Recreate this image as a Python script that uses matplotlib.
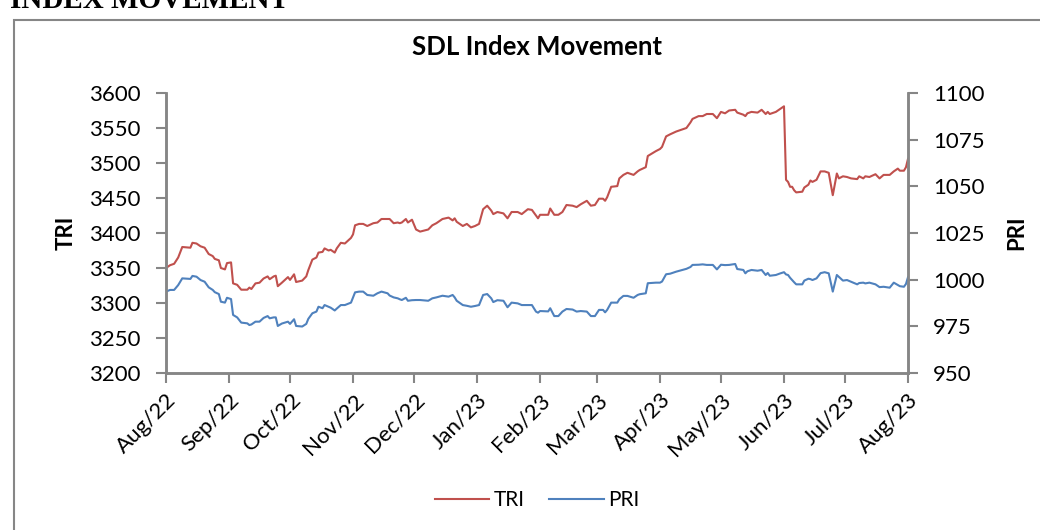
import matplotlib
matplotlib.use("Agg")
import matplotlib.pyplot as plt
import matplotlib.dates as mdates
from matplotlib.patches import Rectangle
import pandas as pd

plt.rcParams['font.family'] = ['Lato', 'DejaVu Sans']

# days since 1 Aug 2022
days = [0, 2, 4, 6, 8, 12, 13, 15, 17, 19, 21, 23, 24, 26, 27, 29, 30, 32, 33, 35,
        37, 40, 41, 42, 44, 46, 48, 50, 51, 53, 54, 55, 57, 60, 61, 63, 64, 67, 69, 70,
        72, 74, 75, 77, 78, 80, 81, 83, 84, 86, 88, 91, 92, 93, 95, 97, 99, 102, 104, 106,
        109, 110, 112, 114, 115, 116, 118, 119, 121, 123, 125, 129, 131, 133, 136, 139, 141, 142, 143, 146,
        148, 150, 152, 154, 156, 158, 160, 161, 163, 166, 168, 170, 173, 175, 178, 180, 182, 183, 184, 188,
        189, 191, 193, 195, 197, 200, 202, 204, 207, 209, 211, 213, 215, 216, 217, 219, 222, 223, 225, 227,
        230, 232, 233, 236, 237, 241, 243, 244, 246, 248, 251, 254, 256, 258, 259, 262, 264, 266, 269, 271,
        273, 275, 277, 280, 281, 284, 285, 286, 288, 291, 293, 295, 296, 297, 300, 302, 304, 305, 306, 307,
        308, 309, 310, 313, 314, 316, 317, 318, 320, 322, 324, 326, 328, 330, 331, 333, 335, 337, 340, 341,
        343, 344, 346, 349, 351, 353, 356, 358, 360, 361, 363, 364, 365]

tri = [3350, 3354, 3356, 3365, 3380, 3379, 3386, 3385, 3381, 3379, 3370, 3367, 3363, 3361, 3350, 3348, 3357, 3358, 3328, 3326,
       3319, 3319, 3322, 3320, 3328, 3329, 3335, 3338, 3334, 3338, 3339, 3324, 3329, 3337, 3333, 3341, 3330, 3332, 3338, 3347,
       3362, 3365, 3372, 3373, 3378, 3375, 3376, 3372, 3378, 3386, 3385, 3393, 3398, 3411, 3413, 3413, 3410, 3414, 3415, 3420,
       3420, 3420, 3414, 3415, 3414, 3415, 3420, 3415, 3419, 3405, 3402, 3405, 3411, 3414, 3420, 3422, 3418, 3421, 3416, 3410,
       3413, 3408, 3410, 3413, 3434, 3439, 3432, 3427, 3430, 3428, 3421, 3430, 3430, 3427, 3434, 3433, 3425, 3421, 3426, 3426,
       3435, 3426, 3426, 3430, 3440, 3439, 3437, 3441, 3446, 3439, 3440, 3449, 3449, 3446, 3451, 3466, 3467, 3478, 3483, 3486,
       3483, 3488, 3490, 3494, 3510, 3517, 3520, 3523, 3538, 3541, 3545, 3548, 3550, 3558, 3563, 3567, 3567, 3570, 3570, 3564,
       3573, 3571, 3575, 3576, 3572, 3569, 3567, 3571, 3573, 3572, 3576, 3570, 3573, 3570, 3573, 3577, 3581, 3476, 3473, 3466,
       3466, 3461, 3458, 3459, 3465, 3469, 3475, 3473, 3476, 3488, 3488, 3486, 3454, 3485, 3478, 3481, 3480, 3478, 3477, 3481,
       3478, 3481, 3480, 3484, 3478, 3483, 3483, 3488, 3492, 3489, 3489, 3494, 3506]

pri = [993.6, 994.5, 994.5, 997.1, 1000.7, 1000.4, 1002.0, 1001.6, 999.8, 998.9, 995.9, 994.5, 993.3, 992.3, 988.2, 987.7, 990.3, 989.6, 981.1, 979.8,
       977.0, 976.6, 975.7, 976.0, 977.5, 977.5, 979.5, 980.5, 979.3, 979.8, 979.8, 975.2, 976.5, 977.5, 976.3, 978.8, 975.2, 974.9, 976.3, 979.0,
       982.0, 982.9, 985.5, 984.7, 986.4, 985.5, 985.0, 983.5, 984.5, 986.4, 986.4, 987.7, 990.5, 993.2, 993.6, 993.6, 991.8, 991.4, 992.7, 993.6,
       992.7, 991.5, 990.5, 990.0, 989.5, 989.1, 990.3, 988.7, 989.0, 989.1, 989.1, 988.7, 990.0, 990.5, 991.4, 990.9, 991.8, 990.5, 988.7, 986.4,
       986.0, 985.5, 985.9, 986.4, 991.8, 992.3, 990.0, 988.0, 989.0, 988.7, 985.2, 987.7, 987.3, 986.4, 986.4, 986.4, 982.9, 982.3, 983.2, 983.0,
       984.7, 980.5, 980.5, 982.9, 984.3, 984.0, 982.9, 983.2, 982.9, 980.5, 980.5, 983.8, 983.8, 982.5, 983.8, 987.7, 987.7, 989.5, 991.3, 991.3,
       990.3, 991.8, 992.2, 992.7, 998.1, 998.4, 998.4, 999.0, 1002.9, 1003.2, 1004.3, 1005.2, 1005.8, 1006.8, 1007.9, 1008.0, 1008.2, 1007.9, 1007.9, 1005.5,
       1008.0, 1007.8, 1007.9, 1008.4, 1005.7, 1005.2, 1003.4, 1004.5, 1005.2, 1004.8, 1005.2, 1002.5, 1003.6, 1002.1, 1002.5, 1003.3, 1004.0, 1002.8, 1002.5, 1001.0,
       999.8, 998.6, 997.5, 997.5, 999.5, 1000.5, 1000.3, 999.8, 1000.7, 1003.5, 1004.0, 1003.4, 993.6, 1002.5, 1001.5, 999.5, 999.8, 998.9, 997.5, 998.2,
       998.4, 998.0, 998.4, 997.5, 996.0, 996.2, 995.7, 998.4, 997.1, 996.5, 996.2, 997.7, 1001.3]

dates = pd.Timestamp('2022-08-01') + pd.to_timedelta(days, unit='D')
month_ticks = pd.date_range('2022-08-01', '2023-08-01', freq='MS')

red = '#C0504D'
blue = '#4F81BD'
grey = '#868686'

fig = plt.figure(figsize=(10.4, 5.3), dpi=100)
fig.patches.append(Rectangle((14 / 1040, -0.1), 1.2, 1.1 - 20 / 530, transform=fig.transFigure,
                             fill=False, edgecolor=grey, linewidth=1.5))
fig.text(10 / 1040, 1 - 8 / 530, 'INDEX MOVEMENT', family='Liberation Serif', fontsize=21,
         fontweight='bold', va='baseline', ha='left')

ax = fig.add_axes([166 / 1040, 1 - 373 / 530, 742 / 1040, 280 / 530])
ax2 = ax.twinx()

l1, = ax.plot(dates, tri, color=red, lw=1.5, label='TRI')
l2, = ax2.plot(dates, pri, color=blue, lw=1.5, label='PRI')

ax.set_xlim(month_ticks[0], month_ticks[-1])
ax.set_ylim(3200, 3600)
ax.set_yticks(range(3200, 3601, 50))
ax2.set_ylim(950, 1100)
ax2.set_yticks(range(950, 1101, 25))
ax.set_xticks(month_ticks)
ax.xaxis.set_major_formatter(mdates.DateFormatter('%b/%y'))

for a in (ax, ax2):
    a.spines['top'].set_visible(False)
    for s in ('left', 'right', 'bottom'):
        a.spines[s].set_color(grey)
        a.spines[s].set_linewidth(1.8)
    a.tick_params(colors=grey, width=1.5, length=7, labelsize=16, labelcolor='black',
                  direction='out', pad=11)
ax.tick_params(axis='x', pad=5)

for lab in ax.get_xticklabels():
    lab.set_rotation(45)
    lab.set_ha('right')
    lab.set_rotation_mode('anchor')

ax.set_ylabel('TRI', fontsize=16, fontweight='bold')
ax.yaxis.set_label_coords(-0.121, 0.5)
ax2.set_ylabel('PRI', fontsize=16, fontweight='bold')
ax2.yaxis.set_label_coords(1.132, 0.5)
fig.text(537 / 1040, 1 - 47 / 530, 'SDL Index Movement', ha='center', va='center',
         fontsize=18.5, fontweight='bold')

fig.legend(handles=[l1, l2], loc='center', bbox_to_anchor=(537 / 1040, 1 - 500 / 530),
           ncol=2, frameon=False, fontsize=15, handlelength=2.6, columnspacing=1.2,
           handletextpad=0.2)

fig.savefig('out.png', dpi=100)
